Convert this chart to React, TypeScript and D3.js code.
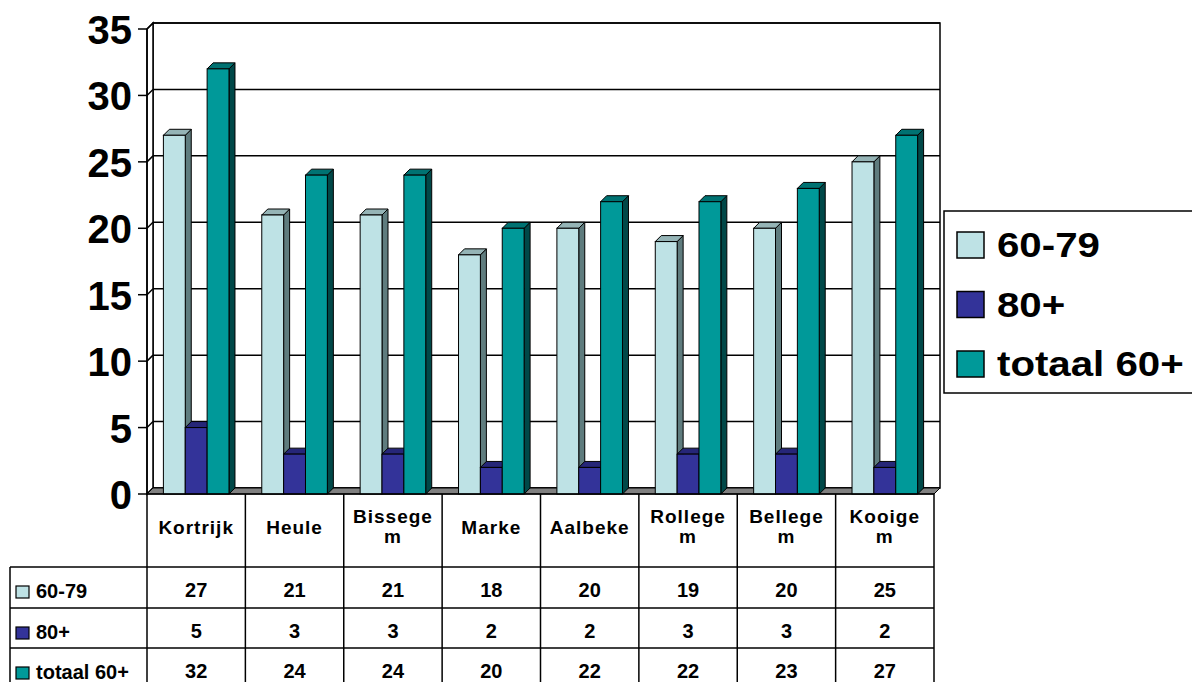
import React from "react";
import * as d3 from "d3";

const categories = ["Kortrijk", "Heule", "Bissegem", "Marke", "Aalbeke", "Rollegem", "Bellegem", "Kooigem"];
const categoryLines = [["Kortrijk"], ["Heule"], ["Bissege", "m"], ["Marke"], ["Aalbeke"], ["Rollege", "m"], ["Bellege", "m"], ["Kooige", "m"]];
const seriesNames = ["60-79", "80+", "totaal 60+"];
const s6079 = [27, 21, 21, 18, 20, 19, 20, 25];
const s80 = [5, 3, 3, 2, 2, 3, 3, 2];
const sTotaal = [32, 24, 24, 20, 22, 22, 23, 27];
const yTicks = [0, 5, 10, 15, 20, 25, 30, 35];

const seriesValues = [s6079, s80, sTotaal];
const colors = [
  { front: "#BEE2E5", top: "#95B4B6", side: "#5F7C7E" },
  { front: "#333399", top: "#262678", side: "#1A1A50" },
  { front: "#009999", top: "#007272", side: "#004848" },
];

const FONT = "'Liberation Sans', Arial, Helvetica, sans-serif";

export default function App() {
  const W = 1192, H = 682;
  const x0 = 147, x1 = 934;
  const yFront0 = 494, yFront35 = 29;
  const dx = 6, dy = -6;

  const x = d3.scaleBand<string>().domain(categories).range([x0, x1]).paddingInner(0).paddingOuter(0);
  const bw = x.bandwidth();
  const barW = bw / 4.5;
  const y = d3.scaleLinear().domain([0, 35]).range([yFront0, yFront35]);

  const rowTops = [567, 608, 648];
  const tableBottom = 690;

  const pts = (arr: number[][]) => arr.map((p) => p.join(",")).join(" ");

  return (
    <svg width={W} height={H} style={{ position: "absolute", left: 0, top: 0, background: "#fff" }} fontFamily={FONT}>
      <rect x={0} y={0} width={W} height={H} fill="#fff" />
      {/* back wall */}
      <rect x={x0 + dx} y={y(35) + dy} width={x1 - x0} height={y(0) - y(35)} fill="#fff" stroke="#000" strokeWidth={1.5} />
      {/* side wall */}
      <polygon points={pts([[x0, y(35)], [x0 + dx, y(35) + dy], [x0 + dx, y(0) + dy], [x0, y(0)]])} fill="#fff" stroke="#000" strokeWidth={1.5} />
      {/* gridlines */}
      {yTicks.map((t) => (
        <g key={t}>
          <line x1={x0 + dx} x2={x1 + dx} y1={y(t) + dy} y2={y(t) + dy} stroke="#000" strokeWidth={1.5} />
          <line x1={x0} x2={x0 + dx} y1={y(t)} y2={y(t) + dy} stroke="#000" strokeWidth={1.5} />
          <line x1={x0 - 9} x2={x0} y1={y(t)} y2={y(t)} stroke="#000" strokeWidth={1.5} />
          <text x={132} y={y(t) + 15} textAnchor="end" fontSize={40} fontWeight="bold" fill="#000">
            {t}
          </text>
        </g>
      ))}
      <line x1={x0} x2={x0} y1={y(35)} y2={y(0)} stroke="#000" strokeWidth={1.5} />
      {/* floor */}
      <polygon points={pts([[x0, y(0)], [x1, y(0)], [x1 + dx, y(0) + dy], [x0 + dx, y(0) + dy]])} fill="#808080" stroke="#000" strokeWidth={1} />
      {/* bars */}
      {categories.map((c, ci) => (
        <g key={c}>
          {seriesValues.map((vals, si) => {
            const bx = (x(c) as number) + barW * 0.75 + si * barW;
            const by = y(vals[ci]);
            const bb = y(0);
            const col = colors[si];
            return (
              <g key={si}>
                <polygon points={pts([[bx + barW, by], [bx + barW + dx, by + dy], [bx + barW + dx, bb + dy], [bx + barW, bb]])} fill={col.side} stroke="#000" strokeWidth={1} />
                <polygon points={pts([[bx, by], [bx + barW, by], [bx + barW + dx, by + dy], [bx + dx, by + dy]])} fill={col.top} stroke="#000" strokeWidth={1} />
                <rect x={bx} y={by} width={barW} height={bb - by} fill={col.front} stroke="#000" strokeWidth={1} />
              </g>
            );
          })}
        </g>
      ))}
      {/* data table */}
      <g stroke="#000" strokeWidth={1.5}>
        <line x1={x0} x2={x1} y1={yFront0} y2={yFront0} />
        {rowTops.map((r) => (
          <line key={r} x1={10} x2={x1} y1={r} y2={r} />
        ))}
        <line x1={10} x2={10} y1={rowTops[0]} y2={tableBottom} />
        {d3.range(categories.length + 1).map((i) => {
          const xx = x0 + i * bw;
          return <line key={i} x1={xx} x2={xx} y1={yFront0} y2={tableBottom} />;
        })}
      </g>
      {categories.map((c, ci) => {
        const cx = (x(c) as number) + bw / 2;
        const lines = categoryLines[ci];
        const baselines = lines.length === 1 ? [534] : [523, 543];
        return (
          <g key={c}>
            {lines.map((l, li) => (
              <text key={li} x={cx} y={baselines[li]} textAnchor="middle" fontSize={19} fontWeight="bold" letterSpacing={1} fill="#000">
                {l}
              </text>
            ))}
            {seriesValues.map((vals, si) => (
              <text key={si} x={cx} y={rowTops[si] + 30} textAnchor="middle" fontSize={20} fontWeight="bold" fill="#000">
                {vals[ci]}
              </text>
            ))}
          </g>
        );
      })}
      {seriesNames.map((n, si) => (
        <g key={n}>
          <rect x={16} y={rowTops[si] + 19} width={13} height={12} fill={colors[si].front} stroke="#000" strokeWidth={1.2} />
          <text x={36} y={rowTops[si] + 31} fontSize={20} fontWeight="bold" fill="#000">
            {n}
          </text>
        </g>
      ))}
      {/* legend */}
      <rect x={944} y={211} width={300} height={182} fill="#fff" stroke="#000" strokeWidth={1.5} />
      {seriesNames.map((n, si) => {
        const ly = 232 + si * 59.5;
        return (
          <g key={n}>
            <rect x={957} y={ly} width={27} height={26} fill={colors[si].front} stroke="#000" strokeWidth={1.5} />
            <text x={997} y={ly + 25.5} fontSize={35} fontWeight="bold" fill="#000" transform={`translate(997,0) scale(1.15,1) translate(-997,0)`}>
              {n}
            </text>
          </g>
        );
      })}
    </svg>
  );
}
